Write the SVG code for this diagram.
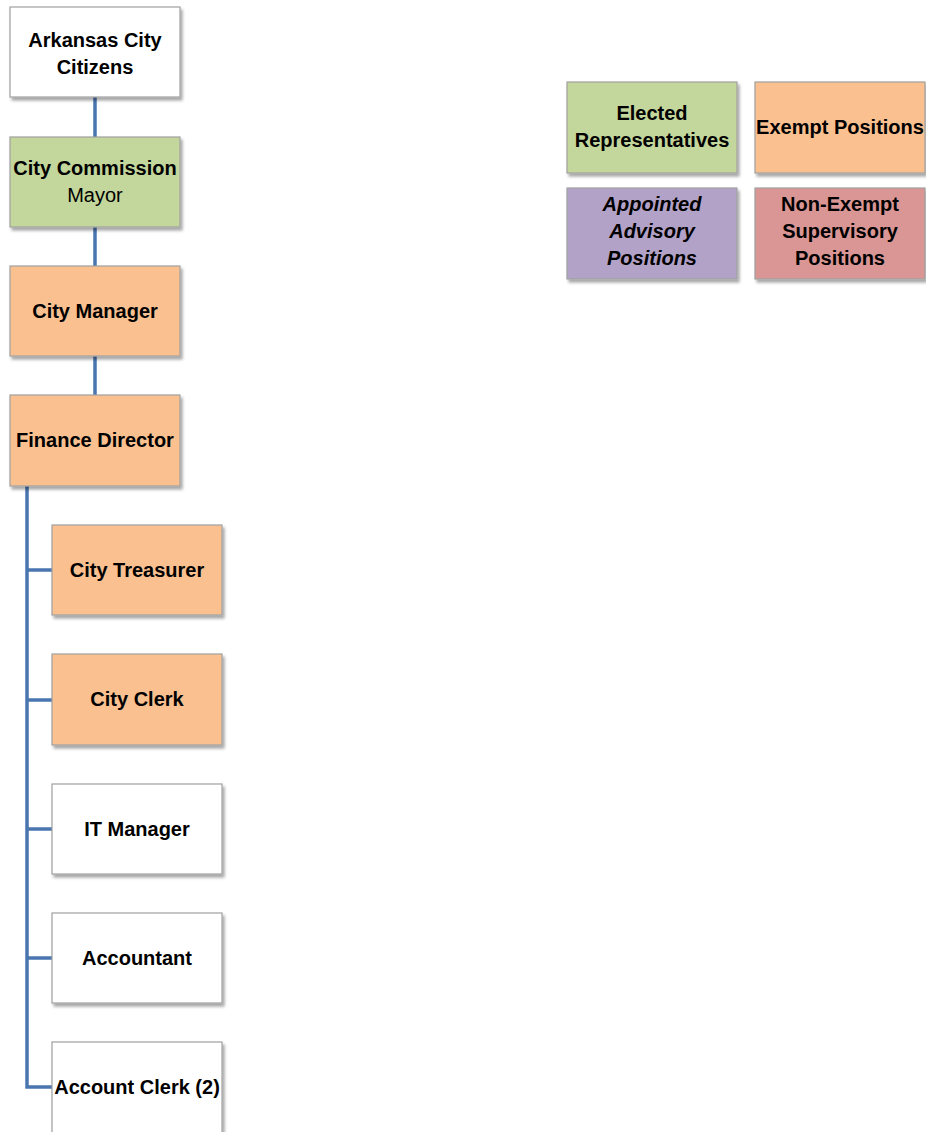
<svg xmlns="http://www.w3.org/2000/svg" width="926" height="1132" viewBox="0 0 926 1132">
<defs>
<filter id="sh" x="-10%" y="-10%" width="125%" height="130%">
<feDropShadow dx="2" dy="3" stdDeviation="1.5" flood-color="#000" flood-opacity="0.35"/>
</filter>
<style>
.box{stroke:#a0a0a0;stroke-width:1.2;filter:url(#sh)}
.w{fill:#ffffff}.g{fill:#c3d69b}.o{fill:#fac090}.p{fill:#b3a2c7}.r{fill:#d99694}
.t{font-family:"Liberation Sans",Arial,sans-serif;font-size:20px;font-weight:bold;fill:#000;text-anchor:middle}
.n{font-weight:normal}.i{font-style:italic}
.c{stroke:#4a76b0;stroke-width:3.5;fill:none}
</style>
</defs>
<rect width="926" height="1132" fill="#fff"/>
<g id="connectors">
<line class="c" x1="95" y1="97" x2="95" y2="137"/>
<line class="c" x1="95" y1="227" x2="95" y2="266"/>
<line class="c" x1="95" y1="356" x2="95" y2="395"/>
<path class="c" d="M27 486 V1087 H52"/>
<line class="c" x1="27" y1="570" x2="52" y2="570"/>
<line class="c" x1="27" y1="700" x2="52" y2="700"/>
<line class="c" x1="27" y1="829" x2="52" y2="829"/>
<line class="c" x1="27" y1="958" x2="52" y2="958"/>
</g>
<g id="citizens"><rect class="box w" x="10" y="7" width="170" height="90"/><text class="t" x="95" y="47">Arkansas City</text><text class="t" x="95" y="74">Citizens</text></g>
<g id="commission"><rect class="box g" x="10" y="137" width="170" height="90"/><text class="t" x="95" y="175">City Commission</text><text class="t n" x="95" y="202">Mayor</text></g>
<g id="manager"><rect class="box o" x="10" y="266" width="170" height="90"/><text class="t" x="95" y="318">City Manager</text></g>
<g id="finance"><rect class="box o" x="10" y="395" width="170" height="91"/><text class="t" x="95" y="447">Finance Director</text></g>
<g id="treasurer"><rect class="box o" x="52" y="525" width="170" height="90"/><text class="t" x="137" y="577">City Treasurer</text></g>
<g id="clerk"><rect class="box o" x="52" y="654" width="170" height="91"/><text class="t" x="137" y="706">City Clerk</text></g>
<g id="it"><rect class="box w" x="52" y="784" width="170" height="90"/><text class="t" x="137" y="836">IT Manager</text></g>
<g id="accountant"><rect class="box w" x="52" y="913" width="170" height="90"/><text class="t" x="137" y="965">Accountant</text></g>
<g id="accountclerk"><rect class="box w" x="52" y="1042" width="170" height="95"/><text class="t" x="137" y="1094">Account Clerk (2)</text></g>
<g id="legend-elected"><rect class="box g" x="567" y="82" width="170" height="91"/><text class="t" x="652" y="120">Elected</text><text class="t" x="652" y="147">Representatives</text></g>
<g id="legend-exempt"><rect class="box o" x="755" y="82" width="170" height="91"/><text class="t" x="840" y="134">Exempt Positions</text></g>
<g id="legend-appointed"><rect class="box p" x="567" y="188" width="170" height="91"/><text class="t i" x="652" y="211">Appointed</text><text class="t i" x="652" y="238">Advisory</text><text class="t i" x="652" y="265">Positions</text></g>
<g id="legend-nonexempt"><rect class="box r" x="755" y="188" width="170" height="91"/><text class="t" x="840" y="211">Non-Exempt</text><text class="t" x="840" y="238">Supervisory</text><text class="t" x="840" y="265">Positions</text></g>
</svg>
